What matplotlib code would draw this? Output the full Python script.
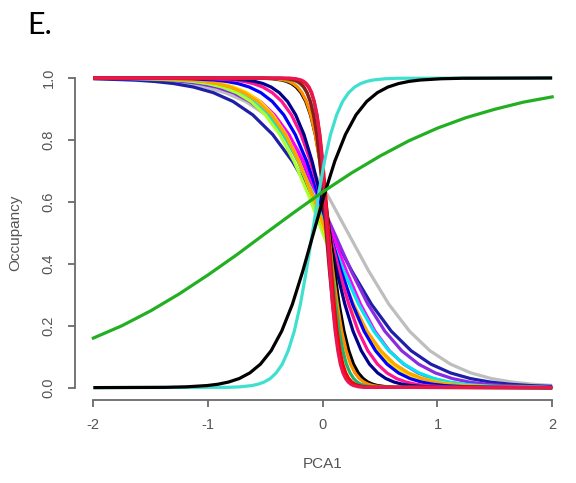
import numpy as np
import matplotlib
matplotlib.use("Agg")
import matplotlib.pyplot as plt

plt.rcParams['font.family'] = ['Liberation Sans', 'DejaVu Sans']
plt.rcParams['axes.unicode_minus'] = False

# Occupancy levels at which the PCA1 position of each curve was read
P_DOWN = [0.9991, 0.9975, 0.9933, 0.989, 0.982, 0.9707, 0.9526, 0.9241, 0.8808, 0.8176, 0.7311, 0.6225, 0.5,
          0.3775, 0.2689, 0.1824, 0.1192, 0.0759, 0.0474, 0.0293, 0.018, 0.011, 0.0067, 0.0025, 0.0009]
P_UP = P_DOWN[::-1]

nan = float('nan')
# Decreasing curves: PCA1 position at each level of P_DOWN (drawn in this order)
gray_x    = [nan, -1.923, -1.566, -1.387, -1.209, -1.030, -0.851, -0.673, -0.494, -0.316, -0.137, 0.041, 0.220,
             0.399, 0.577, 0.756, 0.934, 1.113, 1.291, 1.470, 1.649, 1.827, nan, nan, nan]
navy1_x   = [nan, -1.989, -1.644, -1.472, -1.299, -1.127, -0.954, -0.782, -0.610, -0.437, -0.265, -0.092, 0.080,
             0.252, 0.425, 0.597, 0.770, 0.942, 1.114, 1.287, 1.459, 1.632, 1.804, nan, nan]
purple_x  = [-1.959, -1.665, -1.371, -1.224, -1.076, -0.929, -0.782, -0.635, -0.488, -0.341, -0.194, -0.047, 0.100,
             0.247, 0.394, 0.541, 0.688, 0.835, 0.982, 1.129, 1.276, 1.424, 1.571, 1.865, nan]
magenta_x = [-1.670, -1.420, -1.170, -1.045, -0.920, -0.795, -0.670, -0.545, -0.420, -0.295, -0.170, -0.045, 0.080,
             0.205, 0.330, 0.455, 0.580, 0.705, 0.830, 0.955, 1.080, 1.205, 1.330, 1.580, 1.830]
cyan_x    = [-1.792, -1.529, -1.266, -1.134, -1.003, -0.871, -0.739, -0.608, -0.476, -0.345, -0.213, -0.082, 0.050,
             0.182, 0.313, 0.445, 0.576, 0.708, 0.839, 0.971, 1.103, 1.234, 1.366, 1.629, 1.892]
lime_x    = [-1.750, -1.500, -1.250, -1.125, -1.000, -0.875, -0.750, -0.625, -0.500, -0.375, -0.250, -0.125, 0.000,
             0.125, 0.250, 0.375, 0.500, 0.625, 0.750, 0.875, 1.000, 1.125, 1.250, 1.500, 1.750]
lgreen_x  = [-1.608, -1.375, -1.143, -1.027, -0.910, -0.794, -0.678, -0.561, -0.445, -0.329, -0.213, -0.096, 0.020,
             0.136, 0.253, 0.369, 0.485, 0.601, 0.718, 0.834, 0.950, 1.067, 1.183, 1.415, 1.648]
yellow_x  = [-1.571, -1.344, -1.116, -1.003, -0.889, -0.775, -0.662, -0.548, -0.435, -0.321, -0.207, -0.094, 0.020,
             0.134, 0.247, 0.361, 0.475, 0.588, 0.702, 0.815, 0.929, 1.043, 1.156, 1.384, 1.611]
orange2_x = [-1.637, -1.399, -1.160, -1.041, -0.922, -0.803, -0.684, -0.565, -0.446, -0.327, -0.208, -0.089, 0.030,
             0.149, 0.268, 0.387, 0.506, 0.625, 0.744, 0.863, 0.982, 1.101, 1.220, 1.459, 1.697]
blue_x    = [-1.340, -1.140, -0.940, -0.840, -0.740, -0.640, -0.540, -0.440, -0.340, -0.240, -0.140, -0.040, 0.060,
             0.160, 0.260, 0.360, 0.460, 0.560, 0.660, 0.760, 0.860, 0.960, 1.060, 1.260, 1.460]
dpink_x   = [-1.107, -0.940, -0.773, -0.690, -0.607, -0.523, -0.440, -0.357, -0.273, -0.190, -0.107, -0.023, 0.060,
             0.143, 0.227, 0.310, 0.393, 0.477, 0.560, 0.643, 0.727, 0.810, 0.893, 1.060, 1.227]
navy2_x   = [-0.950, -0.807, -0.664, -0.593, -0.521, -0.450, -0.379, -0.307, -0.236, -0.164, -0.093, -0.021, 0.050,
             0.121, 0.193, 0.264, 0.336, 0.407, 0.479, 0.550, 0.621, 0.693, 0.764, 0.907, 1.050]
blackd_x  = [-0.523, -0.440, -0.357, -0.315, -0.273, -0.232, -0.190, -0.148, -0.107, -0.065, -0.023, 0.018, 0.060,
             0.102, 0.143, 0.185, 0.227, 0.268, 0.310, 0.352, 0.393, 0.435, 0.477, 0.560, 0.643]
orange1_x = [-0.488, -0.412, -0.335, -0.296, -0.258, -0.219, -0.181, -0.142, -0.104, -0.065, -0.027, 0.012, 0.050,
             0.088, 0.127, 0.165, 0.204, 0.242, 0.281, 0.319, 0.358, 0.396, 0.435, 0.512, 0.588]
green3_x  = [-0.388, -0.325, -0.263, -0.231, -0.200, -0.169, -0.138, -0.106, -0.075, -0.044, -0.013, 0.019, 0.050,
             0.081, 0.113, 0.144, 0.175, 0.206, 0.238, 0.269, 0.300, 0.331, 0.363, 0.425, 0.488]
dred_x    = [-0.359, -0.303, -0.248, -0.220, -0.192, -0.164, -0.137, -0.109, -0.081, -0.053, -0.026, 0.002, 0.030,
             0.058, 0.086, 0.113, 0.141, 0.169, 0.197, 0.224, 0.252, 0.280, 0.308, 0.363, 0.419]
red_x     = [-0.300, -0.250, -0.200, -0.175, -0.150, -0.125, -0.100, -0.075, -0.050, -0.025, 0.000, 0.025, 0.050,
             0.075, 0.100, 0.125, 0.150, 0.175, 0.200, 0.225, 0.250, 0.275, 0.300, 0.350, 0.400]
crimson_x = [-0.278, -0.233, -0.187, -0.165, -0.142, -0.119, -0.096, -0.074, -0.051, -0.028, -0.005, 0.017, 0.040,
             0.063, 0.085, 0.108, 0.131, 0.153, 0.176, 0.199, 0.222, 0.244, 0.267, 0.313, 0.358]

# Increasing curves: PCA1 position at each level of P_UP
cyanu_x   = [-0.827, -0.722, -0.616, -0.564, -0.511, -0.458, -0.406, -0.353, -0.301, -0.248, -0.195, -0.143, -0.090,
             -0.037, 0.015, 0.068, 0.121, 0.173, 0.226, 0.278, 0.331, 0.384, 0.436, 0.542, 0.647]
blacku_x  = [-1.376, -1.191, -1.006, -0.913, -0.821, -0.728, -0.636, -0.543, -0.450, -0.358, -0.265, -0.173, -0.080,
             0.013, 0.105, 0.198, 0.290, 0.383, 0.476, 0.568, 0.661, 0.753, 0.846, 1.031, 1.216]

# Shallow increasing green curve, read at regular PCA1 values
green_pca = [-2.0, -1.75, -1.5, -1.25, -1.0, -0.75, -0.5, -0.25, 0.0, 0.25, 0.5, 0.75, 1.0, 1.25, 1.5, 1.75, 2.0]
green_occ = [0.160, 0.200, 0.248, 0.303, 0.364, 0.429, 0.498, 0.566, 0.632, 0.693, 0.748, 0.797, 0.838, 0.872,
             0.899, 0.922, 0.939]

# Occupancy at PCA1 = -2 and PCA1 = 2 for the level-read curves
down_names  = ['gray', 'navy1', 'purple', 'magenta', 'cyan', 'lime', 'lgreen', 'yellow', 'orange2', 'blue',
               'dpink', 'navy2', 'blackd', 'orange1', 'green3', 'dred', 'red', 'crimson']
down_start  = [0.998, 0.9976, 0.9992, 1.0, 1.0, 1.0, 1.0, 1.0, 1.0, 1.0, 1.0, 1.0, 1.0, 1.0, 1.0, 1.0, 1.0, 1.0]
down_end    = [0.007, 0.004, 0.0016, 0.0, 0.0, 0.0, 0.0, 0.0, 0.0, 0.0, 0.0, 0.0, 0.0, 0.0, 0.0, 0.0, 0.0, 0.0]
down_colors = ['#BEBEBE', '#1E1EA8', '#8A2BE2', '#FF00FF', '#00E5EE', '#ADFF2F', '#32CD32', '#FFE600',
               '#FFA500', '#0000FF', '#FF1493', '#00008B', '#000000', '#FF8C00', '#20B26A', '#8B1A1A',
               '#FF0000', '#E8174F']
down_x = [gray_x, navy1_x, purple_x, magenta_x, cyan_x, lime_x, lgreen_x, yellow_x, orange2_x, blue_x,
          dpink_x, navy2_x, blackd_x, orange1_x, green3_x, dred_x, red_x, crimson_x]
up_x = [cyanu_x, blacku_x]
up_colors = ['#40E0D0', '#000000']

fig = plt.figure(figsize=(5.76, 4.83), dpi=100)
ax = fig.add_axes([75/576, 83/483, 495.5/576, 334.4/483])
LW = 2.3


def draw(xs, levels, y0, y1, color):
    px = [-2.0]
    py = [y0]
    for xv, lv in zip(xs, levels):
        if not np.isnan(xv) and -2 < xv < 2:
            px.append(xv)
            py.append(lv)
    px.append(2.0)
    py.append(y1)
    ax.plot(px, py, color=color, lw=LW, solid_capstyle='butt', solid_joinstyle='round')


for xs, c, s, e in zip(down_x, down_colors, down_start, down_end):
    draw(xs, P_DOWN, s, e, c)
for xs, c in zip(up_x, up_colors):
    draw(xs, P_UP, 0.0, 1.0, c)
ax.plot(green_pca, green_occ, color='#22B022', lw=LW)

ax.set_xlim(-2.16, 2.16)
ax.set_ylim(-0.04, 1.04)
for s in ['top', 'right']:
    ax.spines[s].set_visible(False)
axc = '#6a6a6a'
ax.spines['left'].set_bounds(0, 1)
ax.spines['bottom'].set_bounds(-2, 2)
for s in ['left', 'bottom']:
    ax.spines[s].set_color(axc)
    ax.spines[s].set_linewidth(1.3)
ax.set_xticks([-2, -1, 0, 1, 2])
ax.set_xticklabels(['-2', '-1', '0', '1', '2'])
ax.set_yticks([0, 0.2, 0.4, 0.6, 0.8, 1.0])
ax.set_yticklabels(['0.0', '0.2', '0.4', '0.6', '0.8', '1.0'], rotation=90, va='center')
ax.tick_params(axis='both', length=5, width=1.3, color=axc, labelcolor='#555555', labelsize=10.5)
ax.tick_params(axis='x', pad=8)
ax.tick_params(axis='y', pad=9)
ax.set_xlabel('PCA1', fontsize=11, color='#555555', labelpad=18)
ax.set_ylabel('Occupancy', fontsize=11, color='#555555', labelpad=14)

fig.text(27/576, 1 - 34/483, 'E.', fontsize=22, family=['Lato', 'DejaVu Sans'], va='baseline', ha='left',
         color='black')

fig.savefig('out.png', dpi=100)
